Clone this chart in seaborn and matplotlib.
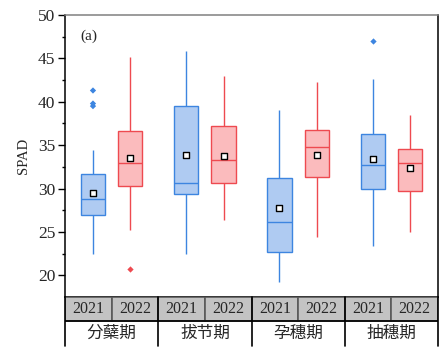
import pandas as pd
import numpy as np
import matplotlib.pyplot as plt
import seaborn as sns
from matplotlib.patches import Rectangle

# Growth stages and years
stages = ['分蘖期', '拔节期', '孕穗期', '抽穗期']
years = ['2021', '2022']

# five-number summaries, order: stage x year
whis_lo = [22.4, 25.2, 22.4, 26.4, 19.2, 24.4, 23.4, 25.0]
q1 = [27.0, 30.3, 29.4, 30.6, 22.7, 31.3, 30.0, 29.7]
median = [28.8, 32.9, 30.6, 33.3, 26.1, 34.8, 32.7, 32.9]
q3 = [31.7, 36.6, 39.5, 37.2, 31.2, 36.7, 36.3, 34.5]
whis_hi = [34.4, 45.2, 45.8, 43.0, 39.0, 42.3, 42.6, 38.5]
means = [29.5, 33.5, 33.9, 33.8, 27.7, 33.9, 33.4, 32.4]

# outliers
out_stage = ['分蘖期', '分蘖期', '分蘖期', '分蘖期', '抽穗期']
out_year = ['2021', '2021', '2021', '2022', '2021']
out_val = [41.3, 39.8, 39.5, 20.7, 47.0]

box_rows = []
mean_rows = []
for i, st in enumerate(stages):
    for j, yr in enumerate(years):
        k = i * 2 + j
        for v in (whis_lo[k], q1[k], median[k], q3[k], whis_hi[k]):
            box_rows.append({'stage': st, 'year': yr, 'SPAD': v})
        mean_rows.append({'stage': st, 'year': yr, 'SPAD': means[k]})
df_box = pd.DataFrame(box_rows)
df_mean = pd.DataFrame(mean_rows)
df_out = pd.DataFrame({'stage': out_stage, 'year': out_year, 'SPAD': out_val})

fills = {'2021': '#AFCBF2', '2022': '#FBBBBD'}
edges = {'2021': '#3D85E0', '2022': '#EE4A50'}

sns.set_theme(style='white')
plt.rcParams['font.family'] = ['Liberation Serif', 'Noto Sans CJK SC']

fig = plt.figure(figsize=(4.44, 3.55), dpi=100)
ax = fig.add_axes([0.1464, 0.1634, 0.8401, 0.7943])

sns.boxplot(data=df_box, x='stage', y='SPAD', hue='year', order=stages,
            hue_order=years, palette=fills, saturation=1, whis=(0, 100),
            gap=0.35, showcaps=False, linewidth=1.0, legend=False, ax=ax)

# box outlines in the darker hue colour
for patch in ax.patches:
    fc = patch.get_facecolor()
    yr = '2021' if fc[2] > fc[0] else '2022'
    patch.set_edgecolor(edges[yr])

# seaborn draws hue level by level: first all 2021, then all 2022
n_lines = len(ax.lines)
for n, ln in enumerate(ax.lines):
    yr = years[0] if n < n_lines // 2 else years[1]
    ln.set_color(edges[yr])
    ln.set_linewidth(1.0)

sns.stripplot(data=df_out, x='stage', y='SPAD', hue='year', order=stages,
              hue_order=years, palette=edges, dodge=True, jitter=False,
              marker='D', size=3.2, linewidth=0, legend=False, ax=ax)
sns.stripplot(data=df_mean, x='stage', y='SPAD', hue='year', order=stages,
              hue_order=years, palette={'2021': 'white', '2022': 'white'},
              dodge=True, jitter=False, marker='s', size=3.8,
              edgecolor='black', linewidth=1.0, legend=False, ax=ax)

ax.set_xlim(-0.5, 3.5)
ax.set_ylim(17.5, 50)
ax.set_yticks([20, 25, 30, 35, 40, 45, 50])
ax.set_yticks(np.arange(22.5, 50, 5), minor=True)
ax.tick_params(axis='y', which='major', direction='out', length=5, width=1,
               labelsize=12.5, left=True, color='black', pad=2)
ax.tick_params(axis='y', which='minor', direction='out', length=2.5, width=1,
               left=True, color='black')
ax.set_xticks([])
ax.set_xlabel('')
ax.set_ylabel('SPAD', fontsize=10.5, labelpad=6)
for side in ['left', 'right', 'bottom']:
    ax.spines[side].set_color('black')
    ax.spines[side].set_linewidth(1.1)
ax.spines['top'].set_color('#808080')
ax.spines['top'].set_linewidth(1.1)
ax.text(0.04, 0.925, '(a)', transform=ax.transAxes, fontsize=11,
        ha='left', va='center')

# category table below the axes
tax = fig.add_axes([0.1464, 0.0254, 0.8401, 0.138])
tax.set_xlim(-0.5, 3.5)
tax.set_ylim(0, 2)
tax.axis('off')
for i, st in enumerate(stages):
    for j, yr in enumerate(years):
        x0 = i - 0.5 + j * 0.5
        tax.add_patch(Rectangle((x0, 1.02), 0.5, 0.98, facecolor='#C3C3C3',
                                edgecolor='#5A5A5A', linewidth=1.2))
        tax.text(x0 + 0.25, 1.5, yr, ha='center', va='center', fontsize=11.5)
    tax.text(i, 0.5, st, ha='center', va='center', fontsize=12)
tax.plot([-0.5, 3.5], [1.0, 1.0], color='black', linewidth=1.2)
for b in range(5):
    tax.plot([b - 0.5, b - 0.5], [0, 2], color='black', linewidth=1.2,
             clip_on=False)

fig.savefig('out.png', dpi=100)
